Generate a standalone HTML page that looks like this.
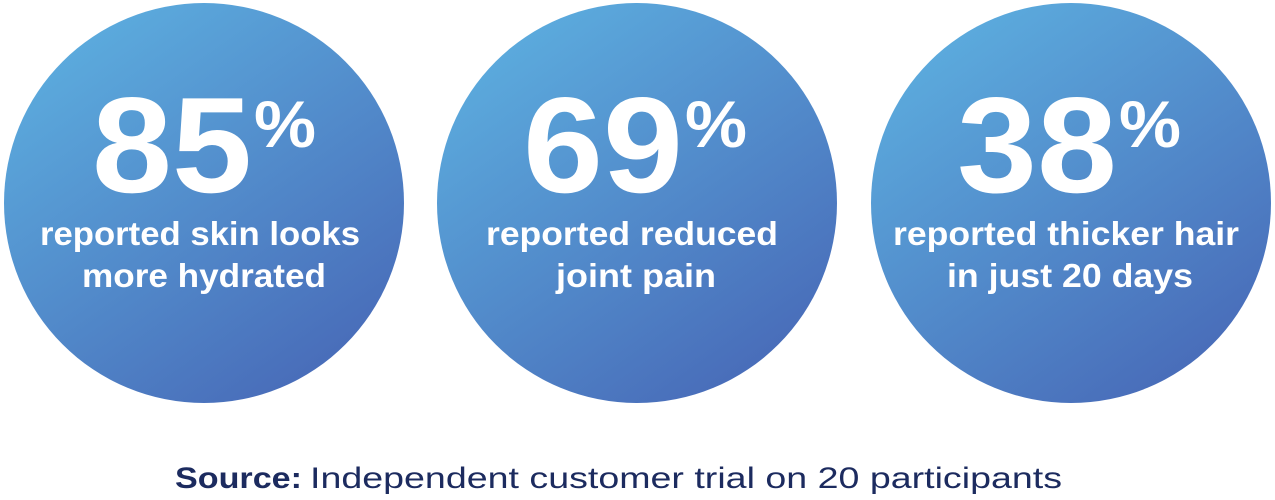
<!DOCTYPE html>
<html><head><style>html,body{margin:0;padding:0;background:#fff;}svg{display:block}</style></head><body>
<svg width="1275" height="500" viewBox="0 0 1275 500" xmlns="http://www.w3.org/2000/svg">
<defs>
<linearGradient id="g" x1="0.15" y1="0" x2="0.85" y2="1">
<stop offset="0" stop-color="#5db0e0"/>
<stop offset="1" stop-color="#4767b6"/>
</linearGradient>
</defs>
<g font-family="Liberation Sans, sans-serif" font-weight="bold" fill="#fff">
<circle cx="204" cy="203" r="200" fill="url(#g)"/>
<circle cx="637" cy="203" r="200" fill="url(#g)"/>
<circle cx="1071" cy="203" r="200" fill="url(#g)"/>

<text x="92" y="192" font-size="136" textLength="160" lengthAdjust="spacingAndGlyphs">85</text>
<text x="254" y="147" font-size="66" textLength="62" lengthAdjust="spacingAndGlyphs">%</text>
<text x="200" y="245" font-size="33" text-anchor="middle" textLength="320" lengthAdjust="spacingAndGlyphs">reported skin looks</text>
<text x="204" y="287" font-size="33" text-anchor="middle" textLength="244" lengthAdjust="spacingAndGlyphs">more hydrated</text>

<text x="523" y="192" font-size="136" textLength="160" lengthAdjust="spacingAndGlyphs">69</text>
<text x="685" y="147" font-size="66" textLength="62" lengthAdjust="spacingAndGlyphs">%</text>
<text x="632" y="245" font-size="33" text-anchor="middle" textLength="292" lengthAdjust="spacingAndGlyphs">reported reduced</text>
<text x="636" y="287" font-size="33" text-anchor="middle" textLength="160" lengthAdjust="spacingAndGlyphs">joint pain</text>

<text x="957" y="192" font-size="136" textLength="160" lengthAdjust="spacingAndGlyphs">38</text>
<text x="1119" y="147" font-size="66" textLength="62" lengthAdjust="spacingAndGlyphs">%</text>
<text x="1066" y="245" font-size="33" text-anchor="middle" textLength="346" lengthAdjust="spacingAndGlyphs">reported thicker hair</text>
<text x="1070" y="287" font-size="33" text-anchor="middle" textLength="246" lengthAdjust="spacingAndGlyphs">in just 20 days</text>
</g>
<g font-family="Liberation Sans, sans-serif" font-size="30" fill="#1c2b5f">
<text x="175" y="488" font-weight="bold" textLength="127" lengthAdjust="spacingAndGlyphs">Source:</text>
<text x="310" y="488" textLength="752" lengthAdjust="spacingAndGlyphs">Independent customer trial on 20 participants</text>
</g>
</svg>
</body></html>
